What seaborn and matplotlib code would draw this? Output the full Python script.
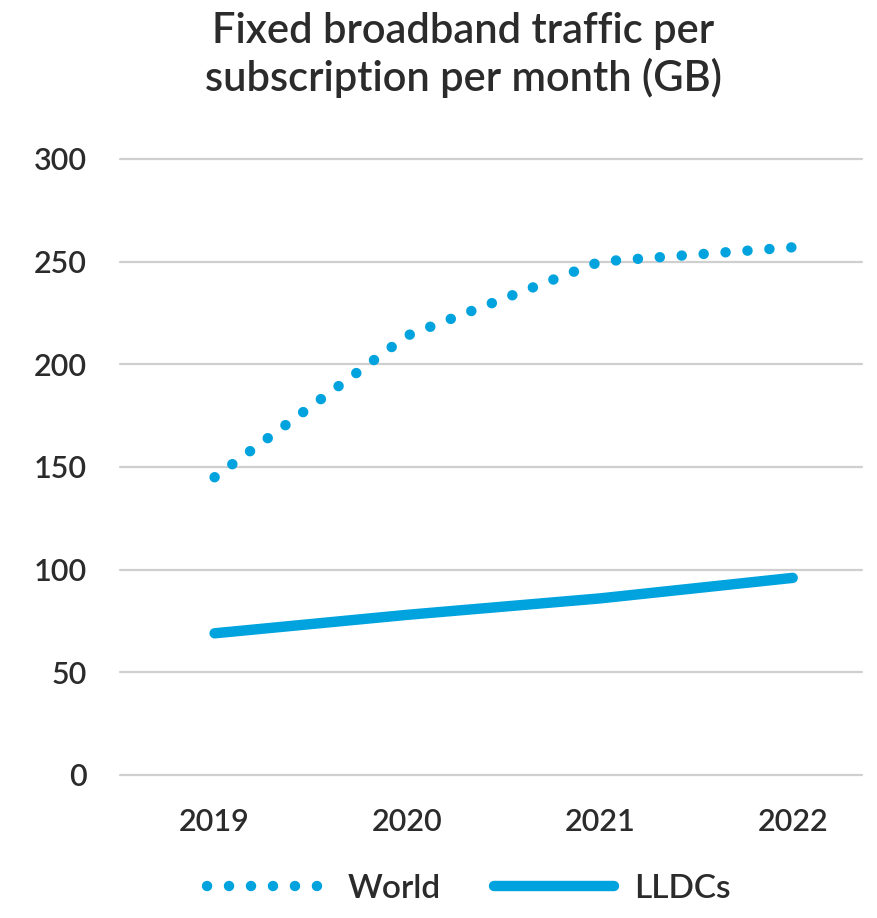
import pandas as pd
import matplotlib
matplotlib.use('Agg')
import matplotlib.pyplot as plt
import seaborn as sns

years = ['2019', '2020', '2021', '2022']
world = [145, 214, 250, 257]
lldcs = [69, 78, 86, 96]
y_ticks = [0, 50, 100, 150, 200, 250, 300]

blue = '#00A3DD'
text_col = '#2b2b2b'

sns.set_style('white')
plt.rcParams['font.family'] = ['Lato', 'DejaVu Sans']
plt.rcParams['font.weight'] = 600

df = pd.DataFrame({'year': years * 2,
                   'value': world + lldcs,
                   'series': ['World'] * 4 + ['LLDCs'] * 4})
df['x'] = df['year'].map({y: i for i, y in enumerate(years)})

fig = plt.figure(figsize=(8.77, 9.18), dpi=100)
ax = fig.add_axes([0.137, 0.1558, 0.846, 0.671])

sns.lineplot(data=df[df['series'] == 'World'], x='x', y='value', ax=ax,
             color=blue, lw=7.5, linestyle=(0, (0.01, 2.1)),
             dash_capstyle='round', label='World')
sns.lineplot(data=df[df['series'] == 'LLDCs'], x='x', y='value', ax=ax,
             color=blue, lw=7.5, solid_capstyle='round', label='LLDCs')

ax.set_xlim(-0.49, 3.36)
ax.set_ylim(0, 300)
ax.set_xticks(range(len(years)))
ax.set_xticklabels(years)
ax.set_yticks(y_ticks)
for t in y_ticks:
    ax.axhline(t, color='#cfcfcf', lw=1.6, zorder=0, clip_on=False)
ax.grid(False)
sns.despine(ax=ax, left=True, bottom=True)
ax.tick_params(axis='y', length=0, pad=24, labelsize=22, labelcolor=text_col)
ax.tick_params(axis='x', length=0, pad=24, labelsize=22, labelcolor=text_col)
ax.set_xlabel('')
ax.set_ylabel('')

fig.text(0.528, 0.94, 'Fixed broadband traffic per\nsubscription per month (GB)',
         ha='center', va='center', fontsize=30, color=text_col,
         linespacing=1.25)

ax.legend(loc='center', bbox_to_anchor=(0.47, -0.185), ncol=2, frameon=False,
          fontsize=24, handlelength=3.6, columnspacing=1.6, handletextpad=0.6,
          labelcolor=text_col)

fig.savefig('out.png', dpi=100)
